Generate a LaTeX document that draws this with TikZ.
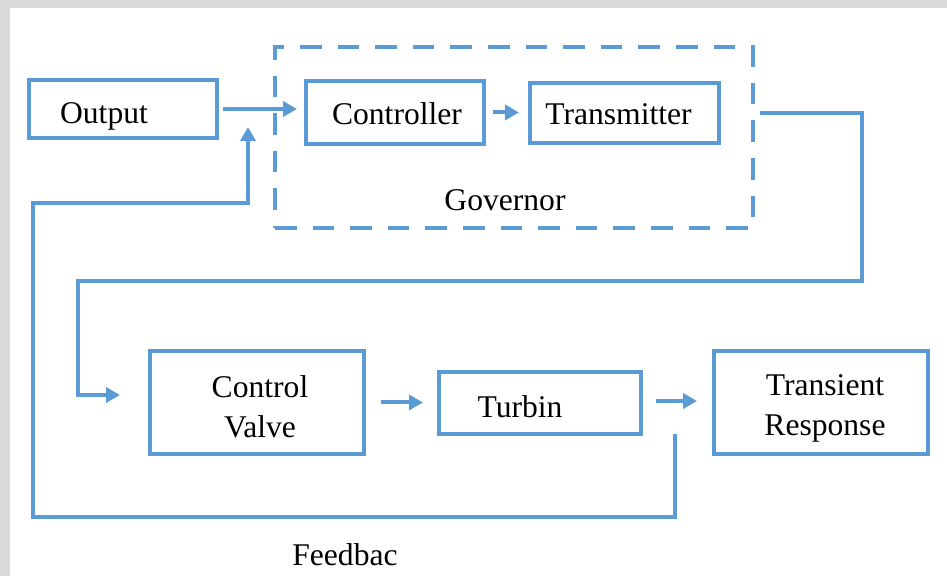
\documentclass[tikz,border=0pt]{standalone}
\usepackage{fontspec}
\setmainfont{Liberation Serif}
\usetikzlibrary{arrows.meta}
\definecolor{lineblue}{HTML}{5B9BD5}
\definecolor{framegray}{HTML}{D9D9D9}

\begin{document}
\begin{tikzpicture}[x=0.5pt,y=-0.5pt,>={Triangle[length=7pt,width=7.5pt]},
            line width=2pt]
        \tikzstyle{block}=[draw=lineblue,line width=2pt,inner sep=0pt]
        \tikzstyle{lbl}=[inner sep=0pt,align=center,font=\fontsize{15.8}{20}\selectfont]
        \tikzstyle{wire}=[draw=lineblue,line width=2pt]

        % page frame
        \fill[framegray] (0,0) rectangle (947,576);
        \fill[white] (10,8) rectangle (947,576);
        \useasboundingbox (0,0) rectangle (947,576);

        % governor group
        \node[block,dash pattern=on 10.8pt off 8pt,minimum width=239pt,
            minimum height=90.5pt] (gov) at (514,137.5) {};
        \node[lbl] (govl) at (505,200) {Governor};

        \node[block,minimum width=94pt,minimum height=29pt,
            label={[lbl,xshift=-9.5pt,yshift=-3.5pt]center:Output}] (out) at (123,109) {};
        \node[block,minimum width=89pt,minimum height=31.5pt,
            label={[lbl,xshift=1pt,yshift=-0.5pt]center:Controller}] (ctrl) at (395,112.5) {};
        \node[block,minimum width=94.5pt,minimum height=30pt,
            label={[lbl,xshift=-3pt,yshift=-0.5pt]center:Transmitter}] (trans) at (624.5,113) {};

        \node[block,minimum width=107pt,minimum height=51.5pt,
            label={[lbl,xshift=1.5pt,yshift=-2pt]center:Control\\Valve}] (valve) at (257,402.5) {};
        \node[block,minimum width=101pt,minimum height=31pt,
            label={[lbl,xshift=-10pt,yshift=-2pt]center:Turbin}] (turb) at (540,403) {};
        \node[block,minimum width=107pt,minimum height=51.5pt,
            label={[lbl,xshift=2pt,yshift=-3pt]center:Transient\\Response}] (resp) at (821,402.5) {};

        \node[lbl] (fbl) at (345,555) {Feedbac};

        \coordinate (fb0) at (675,434);
        \coordinate (fbtip) at (248,127);

        \draw[wire,->] ([xshift=2pt]out.east) -- ([xshift=-3.5pt]out.east -| ctrl.west);
        \draw[wire,->] ([xshift=3.5pt]ctrl.east) -- ([xshift=-4.5pt]ctrl.east -| trans.west);
        \draw[wire,->] ([xshift=19.5pt]trans.east) -- ++(102,0) |- (78,281)
            |- ([xshift=-14pt,yshift=3.75pt]valve.west);
        \draw[wire,->] ([xshift=7.5pt]valve.east) -- ([xshift=-7pt]valve.east -| turb.west);
        \draw[wire,->] ([xshift=6.5pt,yshift=1pt]turb.east) -- ([xshift=-7.5pt,yshift=1pt]turb.east -| resp.west);

        % feedback loop
        \draw[wire,->] (fb0) |- (33,517) |- (248,203) -- (fbtip);
    \end{tikzpicture}
\end{document}
